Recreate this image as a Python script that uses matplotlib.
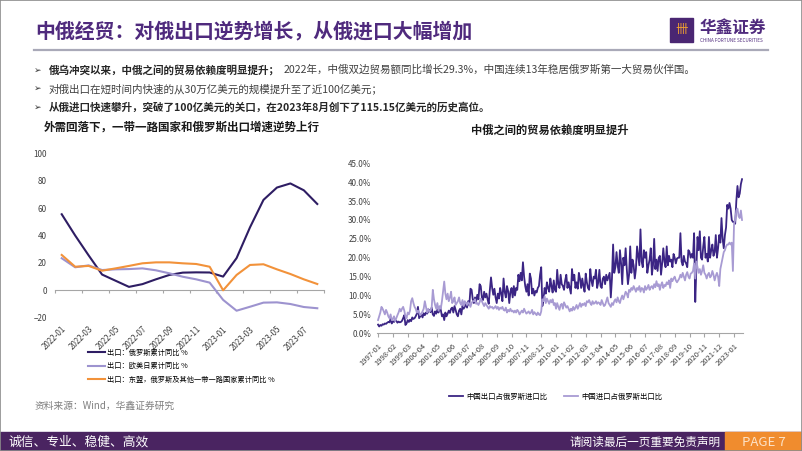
import numpy as np
import pandas as pd
import matplotlib
matplotlib.use("Agg")
import matplotlib.pyplot as plt
from matplotlib.patches import Rectangle

plt.rcParams['font.family'] = ['Noto Sans CJK SC', 'DejaVu Sans']

W, H = 802, 451

def fx(px):
    return px / W

def fy(py):
    return 1 - py / H

# ---- left chart: cumulative export yoy (%), 2022-01 .. 2023-08
left_months = list(pd.date_range("2022-01-01", periods=20, freq="MS").strftime("%Y-%m"))
russia_yoy = [55.5, 40, 25.5, 11.5, 7, 2.5, 4.5, 8, 11.2, 12.9,
              13.1, 13, 10, 23.5, 46, 66, 75, 78, 73, 63]
euusjp_yoy = [23.4, 16.8, 18.2, 14.8, 15.3, 15.5, 16, 14.6, 12.4, 9.9,
              8, 5.6, -7, -14.9, -12, -9, -8.8, -10, -12.2, -13.1]
asean_bri_yoy = [25.8, 17.2, 17.8, 14.3, 16, 17.8, 19.7, 20.4, 20.4, 19.7,
                 19.2, 17.2, 0, 11.2, 18.5, 19, 15.3, 11.9, 8, 4.6]
left_labels = ["出口：俄罗斯累计同比 %", "出口：欧美日累计同比 %",
               "出口：东盟，俄罗斯及其他一带一路国家累计同比 %"]

# ---- right chart: trade share (%), monthly 1997-01 .. 2023-08
cn_export_share = [
    2.3, 1.8, 2.2, 2.0, 2.4, 2.3, 2.6, 2.5, 2.8, 3.0, 2.9, 3.8,
    2.6, 3.2, 3.0, 3.4, 3.3, 2.8, 3.1, 2.9, 3.0, 3.3, 4.0, 4.8,
    2.2, 2.6, 3.5, 3.0, 3.6, 3.2, 4.2, 3.8, 4.0, 4.5, 5.2, 7.0,
    4.0, 4.5, 5.0, 4.2, 5.3, 4.8, 5.5, 5.2, 5.8, 6.2, 5.6, 6.8,
    5.0, 4.6, 5.8, 5.2, 6.3, 5.5, 7.0, 6.2, 4.5, 5.0, 3.5, 5.5,
    4.5, 5.2, 6.0, 5.4, 6.5, 6.8, 5.5, 7.2, 6.2, 5.0, 4.5, 6.0,
    6.5, 5.0, 7.2, 6.5, 7.0, 8.0, 6.8, 8.5, 7.5, 11.8, 11.5, 9.0,
    8.0, 9.5, 8.5, 10.2, 9.0, 13.0, 12.5, 9.5, 8.8, 11.0, 9.5, 10.5,
    9.0, 7.8, 11.5, 14.8, 12.0, 10.2, 11.8, 9.5, 8.0, 10.5, 9.2, 12.0,
    10.5, 8.5, 14.5, 11.0, 9.5, 12.5, 11.2, 8.0, 11.0, 12.0, 9.5, 12.5,
    10.0, 12.0, 11.5, 15.5, 13.8, 16.0, 14.0, 18.8, 15.0, 12.5, 11.0, 13.0,
    10.0, 15.8, 14.5, 10.5, 11.8, 10.0, 11.2, 10.8, 12.0, 12.5, 15.5, 17.5,
    7.2, 9.0, 12.0, 10.5, 13.5, 12.0, 11.0, 14.5, 12.5, 10.8, 14.0, 11.5,
    11.0, 16.8, 13.0, 12.0, 15.5, 13.0, 12.5, 11.5, 14.0, 15.5, 12.0, 13.5,
    12.0, 10.5, 17.0, 14.0, 15.5, 12.0, 13.5, 11.8, 16.0, 14.5, 12.0, 14.5,
    12.5, 11.0, 15.8, 13.5, 12.0, 11.5, 17.0, 14.0, 12.5, 15.0, 14.5, 16.8,
    12.0, 13.5, 16.8, 12.5, 12.0, 14.5, 15.0, 13.0, 15.5, 14.0, 15.0, 16.0,
    9.5, 14.5, 23.5, 16.0, 17.5, 21.5, 18.0, 16.0, 22.0, 18.5, 13.0, 20.0,
    18.0, 22.5, 17.0, 13.0, 15.5, 23.0, 16.0, 19.5, 18.0, 14.5, 17.0, 23.0,
    20.5, 18.0, 27.5, 19.0, 17.5, 22.0, 20.0, 21.5, 16.0, 18.0, 19.5, 22.5,
    15.5, 18.0, 25.0, 17.0, 19.5, 16.5, 20.0, 20.5, 15.5, 18.5, 22.5, 19.0,
    17.5, 23.0, 18.0, 20.5, 19.0, 19.5, 17.5, 21.0, 20.0, 18.5, 19.8, 20.0,
    20.0, 26.5, 19.0, 18.0, 20.5, 19.0, 18.5, 17.5, 22.0, 21.5, 20.0, 21.0,
    20.0, 26.5, 8.3, 17.5, 25.5, 22.0, 27.0, 20.0, 19.5, 23.0, 25.5, 20.0,
    21.0, 19.0, 25.5, 20.0, 22.0, 23.5, 20.5, 21.5, 26.0, 20.0, 22.5, 26.0,
    24.0, 30.5, 25.0, 22.5, 26.0, 28.0, 34.0, 33.0, 34.5, 33.0, 30.0, 29.5,
    29.5, 29.0, 35.0, 39.0, 36.0, 37.0, 39.5, 40.8,
]
cn_import_share = [
    3.5, 4.5, 5.5, 7.0, 6.5, 5.8, 5.0, 6.2, 5.5, 4.5, 4.0, 5.0,
    3.5, 3.8, 4.5, 3.2, 4.0, 4.8, 5.5, 6.5, 5.8, 6.5, 7.0, 6.0,
    4.5, 4.0, 5.5, 5.0, 6.0, 8.5, 9.3, 8.0, 7.0, 6.5, 5.5, 6.0,
    5.5, 4.8, 5.2, 5.8, 6.5, 8.5, 7.0, 5.5, 6.5, 5.8, 6.0, 6.8,
    11.5, 9.0, 7.5, 6.5, 8.0, 6.0, 7.2, 6.5, 8.5, 11.0, 13.7, 10.5,
    9.0, 10.5, 8.5, 9.5, 11.0, 8.0, 8.5, 9.5, 7.5, 8.0, 8.5, 9.5,
    8.0, 7.5, 8.8, 7.2, 8.5, 8.0, 7.5, 8.2, 7.8, 7.0, 8.0, 8.5,
    8.5, 9.0, 7.8, 8.0, 7.5, 8.2, 9.2, 8.5, 7.8, 7.2, 8.0, 7.5,
    7.0, 6.5, 7.2, 6.8, 7.0, 6.5, 6.8, 7.2, 6.5, 7.0, 6.2, 6.8,
    6.5, 7.0, 6.2, 6.0, 6.8, 5.5, 6.2, 5.8, 6.5, 5.8, 6.0, 5.5,
    6.0, 5.5, 6.2, 5.8, 5.0, 5.5, 6.0, 5.5, 6.5, 5.8, 5.2, 5.5,
    5.8, 5.2, 5.5, 6.2, 5.0, 5.6, 5.2, 4.8, 5.5, 5.0, 4.8, 5.8,
    9.0, 8.5, 9.8, 8.0, 9.2, 8.5, 7.8, 8.8, 8.2, 9.0, 7.5, 8.0,
    6.5, 8.0, 7.0, 6.2, 7.5, 7.8, 6.5, 8.2, 7.5, 6.8, 7.2, 6.5,
    5.8, 6.5, 6.0, 7.0, 6.2, 6.8, 7.5, 6.5, 7.2, 8.0, 7.0, 7.8,
    7.5, 8.0, 7.2, 8.5, 8.2, 8.8, 8.0, 7.5, 8.5, 7.8, 8.0, 8.5,
    7.8, 8.2, 8.0, 7.5, 8.8, 8.0, 7.2, 7.5, 8.5, 9.5, 8.0, 7.5,
    7.0, 8.0, 7.5, 8.5, 9.0, 8.2, 9.5, 8.5, 8.0, 9.2, 10.0, 9.0,
    10.0, 11.0, 10.5, 9.5, 11.5, 11.0, 12.0, 11.5, 12.5, 11.8, 11.0, 12.0,
    11.5, 12.5, 11.0, 12.0, 11.8, 10.8, 12.5, 11.5, 12.0, 12.8, 11.5, 12.2,
    12.5, 11.8, 13.0, 12.2, 13.8, 12.5, 13.0, 11.5, 12.8, 13.5, 12.0, 12.8,
    12.5, 13.5, 13.0, 14.0, 12.0, 14.5, 13.8, 14.5, 15.0, 14.0, 13.5, 14.0,
    14.5, 15.5, 14.8, 16.0, 15.0, 14.0, 15.5, 16.2, 15.0, 14.5, 15.8, 16.0,
    16.5, 18.5, 14.5, 19.0, 17.5, 16.0, 17.0, 15.5, 16.5, 18.0, 16.0, 15.5,
    14.5, 15.5, 16.0, 14.8, 15.2, 16.5, 15.5, 14.0, 15.2, 16.0, 15.0, 12.5,
    17.0, 18.5, 20.0, 21.5, 22.0, 23.0, 23.5, 23.5, 24.0, 23.5, 24.0, 16.5,
    29.0, 30.0, 32.5, 33.0, 31.0, 30.5, 32.5, 30.0,
]
right_months = list(pd.date_range("1997-01-01", periods=len(cn_export_share), freq="MS").strftime("%Y-%m"))
right_labels = ["中国出口占俄罗斯进口比", "中国进口占俄罗斯出口比"]

DARK = "#2e1d63"
LAV = "#9d93cf"
ORANGE = "#f2923a"
PURPLE = "#4f2a7d"
GREY_AX = "#a6a6a6"

fig = plt.figure(figsize=(W / 100, H / 100), dpi=100)
fig.patch.set_facecolor("white")

# ---- header
fig.text(fx(35), fy(31), "中俄经贸：对俄出口逆势增长，从俄进口大幅增加", fontsize=14.3,
         fontweight="bold", color=PURPLE, va="center", ha="left")
fig.add_artist(plt.Line2D([fx(34), fx(768)], [fy(50), fy(50)], color="#a9a9b8", lw=1.6))
fig.add_artist(Rectangle((fx(670), fy(42)), fx(23) , 24 / H, color="#4a2672"))
fig.text(fx(681.5), fy(30), "卌", fontsize=9, color="#f0a030", ha="center", va="center")
fig.text(fx(700), fy(29), "华鑫证券", fontsize=12, fontweight="bold", color=PURPLE, va="center")
fig.text(fx(700), fy(40), "CHINA FORTUNE SECURITIES", fontsize=3.3, color=PURPLE, va="center")

bullets = [
    ("俄乌冲突以来，中俄之间的贸易依赖度明显提升；", "2022年，中俄双边贸易额同比增长29.3%，中国连续13年稳居俄罗斯第一大贸易伙伴国。"),
    ("", "对俄出口在短时间内快速的从30万亿美元的规模提升至了近100亿美元；"),
    ("从俄进口快速攀升，突破了100亿美元的关口，在2023年8月创下了115.15亿美元的历史高位。", ""),
]
for row, (bold_part, plain_part) in enumerate(bullets):
    y = fy(70 + 18.5 * row)
    fig.text(fx(34), y, "➢", fontsize=6.5, color="#333333", va="center", family="DejaVu Sans")
    t = fig.text(fx(49), y, bold_part, fontsize=7.6, fontweight="bold", color="#262626", va="center")
    if plain_part:
        fig.canvas.draw()
        bb = t.get_window_extent()
        x0 = bb.x1 / W + (fx(4) if bold_part else 0)
        fig.text(x0, y, plain_part, fontsize=7.6, color="#404040", va="center")

# ---- left chart
axl = fig.add_axes([fx(55), fy(317.7), fx(324) - fx(55), (317.7 - 153.3) / H])
xl = np.arange(len(left_months))
axl.plot(xl, russia_yoy, color=DARK, lw=1.5, label=left_labels[0])
axl.plot(xl, euusjp_yoy, color=LAV, lw=1.5, label=left_labels[1])
axl.plot(xl, asean_bri_yoy, color=ORANGE, lw=1.5, label=left_labels[2])
axl.set_xlim(-0.5, len(left_months) - 0.5)
axl.set_ylim(-20, 100)
axl.set_yticks(np.arange(-20, 101, 20))
axl.set_xticks(xl[::2])
axl.set_xticklabels(left_months[::2], rotation=45, ha="right", rotation_mode="anchor")
axl.tick_params(axis="both", length=0, labelsize=5.8, labelcolor="#404040")
axl.tick_params(axis="x", pad=5)
axl.tick_params(axis="y", pad=6)
for s in axl.spines.values():
    s.set_visible(False)
sec = axl.secondary_xaxis(1 / 6)
sec.set_xticks(np.arange(-0.5, len(left_months), 2))
sec.tick_params(axis="x", labelbottom=False, labeltop=False, length=2.5, color=GREY_AX, width=0.8)
for s in sec.spines.values():
    s.set_color(GREY_AX)
    s.set_linewidth(0.8)
fig.text(fx(182), fy(127), "外需回落下，一带一路国家和俄罗斯出口增速逆势上行", fontsize=8.3,
         fontweight="bold", color="#1a1a1a", ha="center", va="center")
fig.legend(*axl.get_legend_handles_labels(), loc="upper left", bbox_to_anchor=(fx(88), fy(349)),
           frameon=False, fontsize=5.2, handlelength=2.3, labelspacing=0.75, handletextpad=0.3,
           borderaxespad=0, borderpad=0)

# ---- right chart
axr = fig.add_axes([fx(376.9), fy(333.3), fx(742.6) - fx(376.9), 170 / H])
xr = np.arange(len(right_months))
axr.plot(xr, cn_export_share, color="#3b2584", lw=1.3, label=right_labels[0])
axr.plot(xr, cn_import_share, color="#a89bd3", lw=1.3, label=right_labels[1])
axr.set_xlim(-1, len(right_months) - 0.5)
axr.set_ylim(0, 45)
axr.set_yticks(np.arange(0, 46, 5))
axr.set_yticklabels([f"{v:.1f}%" for v in np.arange(0, 46, 5)])
axr.set_xticks(xr[::13])
axr.set_xticklabels(right_months[::13], rotation=45, ha="right", rotation_mode="anchor")
axr.tick_params(axis="y", length=0, labelsize=5.8, labelcolor="#404040", pad=4)
axr.tick_params(axis="x", length=3, color=GREY_AX, labelsize=5.5, labelcolor="#404040", pad=3)
for k in ["top", "right", "left"]:
    axr.spines[k].set_visible(False)
axr.spines["bottom"].set_color(GREY_AX)
axr.spines["bottom"].set_linewidth(0.8)
fig.text(fx(550), fy(130), "中俄之间的贸易依赖度明显提升", fontsize=8.1,
         fontweight="bold", color="#1a1a1a", ha="center", va="center")
fig.legend(*axr.get_legend_handles_labels(), loc="center left", bbox_to_anchor=(fx(449), fy(397)),
           ncol=2, frameon=False, fontsize=5.3, handlelength=1.9, handletextpad=0.5,
           columnspacing=2.2, borderaxespad=0, borderpad=0)

# ---- source + footer
fig.text(fx(35), fy(406), "资料来源：Wind，华鑫证券研究", fontsize=7, color="#7f7f7f", va="center")
fig.add_artist(Rectangle((0, 0), 1, 19 / H, color="#4a2461"))
fig.add_artist(Rectangle((fx(725), 0), fx(802) - fx(725), 19 / H, color="#f08c2e"))
fig.text(fx(8), fy(442), "诚信、专业、稳健、高效", fontsize=9.2, color="white", va="center")
fig.text(fx(570), fy(442), "请阅读最后一页重要免责声明", fontsize=8.4, color="white", va="center")
fig.text(fx(764), fy(442), "PAGE 7", fontsize=9.5, color="#fde3c8", va="center", ha="center")
fig.add_artist(Rectangle((0, 0), 1, 1, fill=False, edgecolor="#8c8c8c", lw=1.2))

fig.savefig("out.png", dpi=100)
